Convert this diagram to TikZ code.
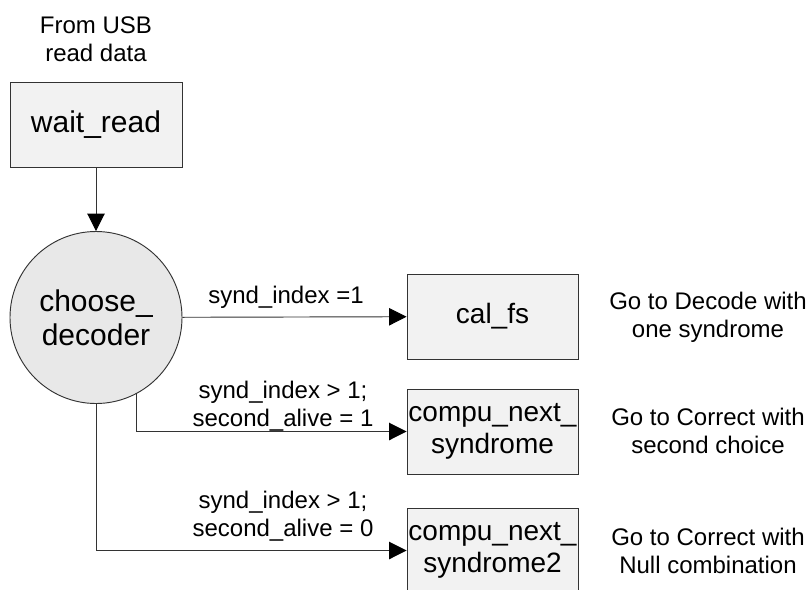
\documentclass[tikz,border=0pt]{standalone}
\usepackage{fontspec}
\setmainfont{Liberation Sans}
\usetikzlibrary{arrows.meta}
\definecolor{boxfill}{HTML}{F2F2F2}
\definecolor{circfill}{HTML}{E8E8E8}
\definecolor{linec}{HTML}{333333}
\begin{document}
\begin{tikzpicture}[x=0.75pt,y=-0.75pt,
  statebox/.style={draw=linec, line width=0.7pt, fill=boxfill, minimum width=128.25pt, minimum height=63.75pt, inner sep=0pt, align=center, font=\fontsize{21}{23.5}\selectfont},
  statecirc/.style={draw=linec, line width=0.7pt, fill=circfill, circle, minimum size=129pt, inner sep=0pt, align=center, font=\fontsize{22.5}{25.5}\selectfont},
  lbl/.style={inner sep=0pt, align=center, font=\fontsize{18}{21}\selectfont},
  conn/.style={draw=linec, line width=0.7pt, -{Triangle[length=13pt,width=13pt,color=black]}}
]
\useasboundingbox (0,0) rectangle (809,589);
\begin{scope}
\clip (0,0) rectangle (809,589);
\node[lbl] (src) at (96,39) {From USB\\read data};
\node[statebox, minimum width=129pt, font=\fontsize{22.5}{25}\selectfont] (wait) at (96,124.5) {wait\_read};
\node[statecirc] (choose) at (96,317.5) {choose\_\\decoder};
\node[statebox] (cal) at (492.5,316.5) {cal\_fs};
\node[statebox] (nxt) at (492.5,431.5) {compu\_next\_\\syndrome};
\node[statebox] (nxt2) at (492.5,550.5) {compu\_next\_\\syndrome2};

\draw[conn] (wait) -- (choose);
\draw[conn] (choose) -- (cal);
\draw[conn] (choose.-62.3) |- (nxt);
\draw[conn] (choose.south) |- (nxt2);

\node[lbl] (l1) at (286,297) {synd\_index =1};
\node[lbl] (l2) at (283,406) {synd\_index > 1;\\second\_alive = 1};
\node[lbl] (l3) at (283,516) {synd\_index > 1;\\second\_alive = 0};

\node[lbl] (r1) at (708,317) {Go to Decode with\\one syndrome};
\node[lbl] (r2) at (708,431) {Go to Correct with\\second choice};
\node[lbl] (r3) at (708,551) {Go to Correct with\\Null combination};
\end{scope}
\end{tikzpicture}
\end{document}
